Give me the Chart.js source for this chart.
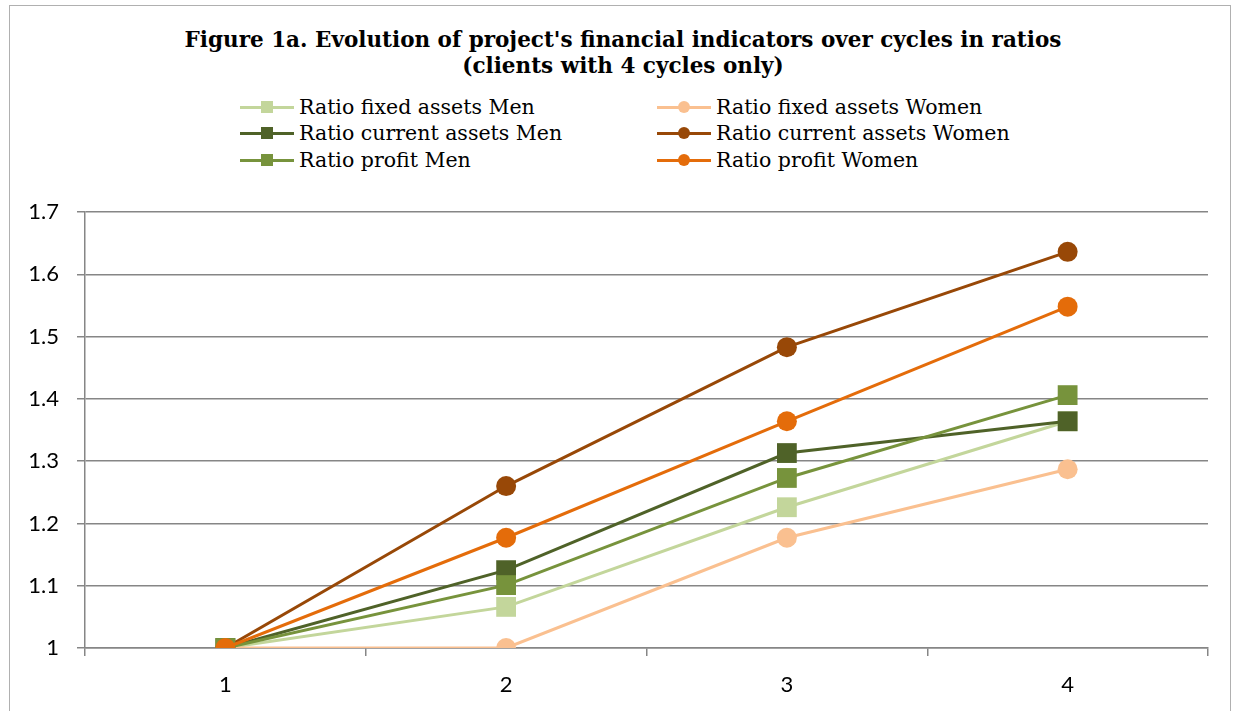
<!DOCTYPE html>
<html>
<head>
<meta charset="utf-8">
<script src="https://cdn.jsdelivr.net/npm/chart.js@4.4.1/dist/chart.umd.min.js"></script>
<style>
  html, body { margin: 0; padding: 0; background: #fff; }
  body { width: 1238px; height: 711px; position: relative; overflow: hidden; }
  #frame { position: absolute; left: 9px; top: 5px; width: 1220px; height: 740px; border: 1px solid #b0b0b0; }
  #title { position: absolute; left: 0; width: 1246px; top: 27px; text-align: center;
           font: bold 21.5px "DejaVu Serif", serif; line-height: 26px; color: #000; }
  #legend { position: absolute; left: 0; top: 0; width: 1238px; height: 200px; }
  .item { position: absolute; height: 26px; display: flex; align-items: center;
          font: 20.5px "DejaVu Serif", serif; color: #000; white-space: nowrap; }
  .sample { position: relative; width: 54px; height: 26px; margin-right: 5px; }
  .sample .ln { position: absolute; left: 0; right: 0; top: 11.5px; height: 3px; }
  .sample .mk { position: absolute; left: 21px; top: 7px; width: 12px; height: 12px; }
  #chart { position: absolute; left: 0; top: 0; }
</style>
</head>
<body>
<div id="frame"></div>
<div id="title">Figure 1a. Evolution of project's financial indicators over cycles in ratios<br>(clients with 4 cycles only)</div>
<div id="legend"></div>
<canvas id="chart" width="1238" height="711"></canvas>
<script>
const cycles = ['1', '2', '3', '4'];

const fixedMen = [1, 1.066, 1.226, 1.364];
const fixedWomen = [1, 1.0, 1.177, 1.287];
const currentMen = [1, 1.125, 1.313, 1.364];
const currentWomen = [1, 1.260, 1.483, 1.636];
const profitMen = [1, 1.101, 1.273, 1.406];
const profitWomen = [1, 1.177, 1.364, 1.548];

const yMin = 1;
const yMax = 1.7;
const yStep = 0.1;

const series = [
  { label: 'Ratio fixed assets Men', data: fixedMen, color: '#c3d69b', shape: 'rect' },
  { label: 'Ratio fixed assets Women', data: fixedWomen, color: '#fac090', shape: 'circle' },
  { label: 'Ratio current assets Men', data: currentMen, color: '#4f6228', shape: 'rect' },
  { label: 'Ratio current assets Women', data: currentWomen, color: '#984807', shape: 'circle' },
  { label: 'Ratio profit Men', data: profitMen, color: '#77933c', shape: 'rect' },
  { label: 'Ratio profit Women', data: profitWomen, color: '#e46c0a', shape: 'circle' }
];

const gridGray = '#868686';
const tickFont = { family: 'Lato', size: 22 };

const datasets = series.map((s, i) => ({
  label: s.label,
  data: s.data,
  borderColor: s.color,
  backgroundColor: s.color,
  borderWidth: 3,
  pointStyle: s.shape,
  pointRadius: s.shape === 'rect' ? 14 : 10,
  pointBorderWidth: 0,
  pointHoverRadius: s.shape === 'rect' ? 14 : 10,
  tension: 0,
  order: -i
}));

const chart = new Chart(document.getElementById('chart').getContext('2d'), {
  type: 'line',
  data: { labels: cycles, datasets: datasets },
  options: {
    responsive: false,
    animation: false,
    devicePixelRatio: 1,
    layout: { padding: { top: 212, right: 30, bottom: 0, left: 0 } },
    plugins: {
      legend: { display: false },
      title: { display: false },
      tooltip: { enabled: false }
    },
    scales: {
      x: {
        offset: true,
        grid: { offset: true, drawOnChartArea: false, drawTicks: true, tickLength: 8, color: gridGray, lineWidth: 1.5 },
        border: { display: true, color: gridGray, width: 1.5 },
        ticks: { color: '#000', font: tickFont, padding: 16 },
        afterFit: (scale) => { scale.height = 63; }
      },
      y: {
        min: yMin,
        max: yMax,
        ticks: {
          stepSize: yStep, color: '#000', font: tickFont, padding: 18,
          callback: (v) => String(Math.round(v * 10) / 10)
        },
        grid: { color: gridGray, lineWidth: 1.5, tickLength: 8 },
        border: { display: true, color: gridGray, width: 1.5 },
        afterFit: (scale) => { scale.width = 85; }
      }
    }
  }
});

// two-column legend laid out like the original
const legendBox = document.getElementById('legend');
const colX = [240, 657];
const rowY = [94, 120, 147];
chart.data.datasets.forEach((ds, i) => {
  const item = document.createElement('div');
  item.className = 'item';
  item.style.left = colX[i % 2] + 'px';
  item.style.top = rowY[Math.floor(i / 2)] + 'px';
  const sample = document.createElement('span');
  sample.className = 'sample';
  const ln = document.createElement('span');
  ln.className = 'ln';
  ln.style.background = ds.borderColor;
  const mk = document.createElement('span');
  mk.className = 'mk';
  mk.style.background = ds.backgroundColor;
  if (ds.pointStyle === 'circle') mk.style.borderRadius = '50%';
  sample.appendChild(ln);
  sample.appendChild(mk);
  item.appendChild(sample);
  item.appendChild(document.createTextNode(ds.label));
  legendBox.appendChild(item);
});
</script>
</body>
</html>
